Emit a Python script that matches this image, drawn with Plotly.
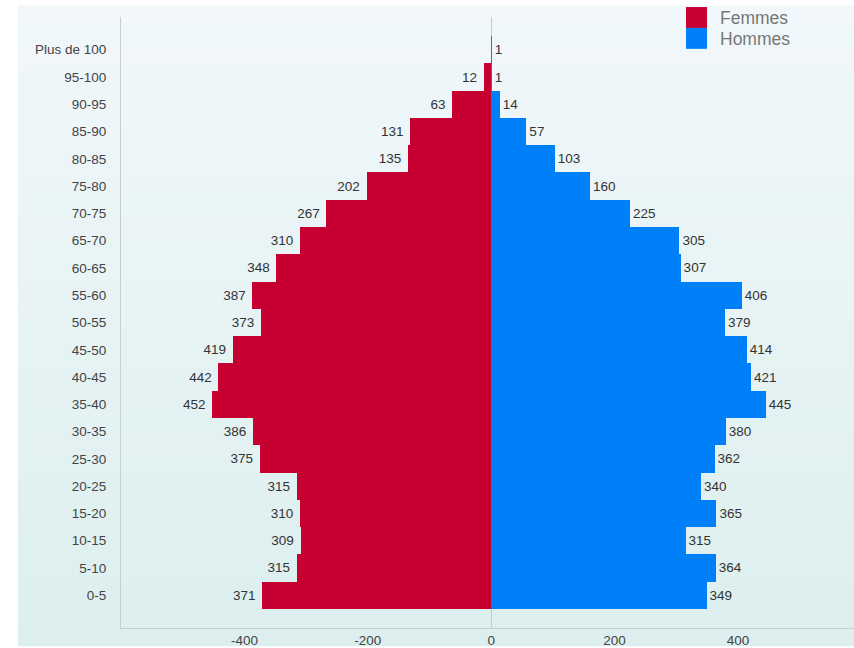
import plotly.graph_objects as go

ages = ["0-5", "5-10", "10-15", "15-20", "20-25", "25-30", "30-35", "35-40",
        "40-45", "45-50", "50-55", "55-60", "60-65", "65-70", "70-75", "75-80",
        "80-85", "85-90", "90-95", "95-100", "Plus de 100"]
femmes = [371, 315, 309, 310, 315, 375, 386, 452, 442, 419, 373, 387, 348,
          310, 267, 202, 135, 131, 63, 12, 0]
hommes = [349, 364, 315, 365, 340, 362, 380, 445, 421, 414, 379, 406, 307,
          305, 225, 160, 103, 57, 14, 1, 1]
x_ticks = [-400, -200, 0, 200, 400]
series_names = ["Femmes", "Hommes"]

RED = "#c70032"
BLUE = "#0080f8"
FONT = "Arial, Liberation Sans, sans-serif"

fig = go.Figure()
fig.add_trace(go.Bar(
    y=ages, x=[-v for v in femmes], orientation="h", name=series_names[0],
    marker=dict(color=RED, line=dict(width=0)),
    text=[(str(v) + "\u00a0") if v else "" for v in femmes],
    textposition="outside",
    textfont=dict(size=13.5, color="#333333", family=FONT),
    constraintext="none", cliponaxis=False, hoverinfo="skip",
))
fig.add_trace(go.Bar(
    y=ages, x=hommes, orientation="h", name=series_names[1],
    marker=dict(color=BLUE, line=dict(width=0)),
    text=[str(v) for v in hommes], textposition="outside",
    textfont=dict(size=13.5, color="#333333", family=FONT),
    constraintext="none", cliponaxis=False, hoverinfo="skip",
))

# light vertical gradient background (styling only)
top = (0xf1, 0xf7, 0xfa)
bot = (0xdc, 0xef, 0xee)
y_top, y_bot = 1.0179, -0.03
n = 30
shapes = []
for i in range(n):
    t = i / (n - 1)
    c = tuple(round(top[k] + (bot[k] - top[k]) * t) for k in range(3))
    y0 = y_top - (y_top - y_bot) * i / n
    y1 = y_top - (y_top - y_bot) * (i + 1) / n
    shapes.append(dict(type="rect", xref="paper", yref="paper",
                       x0=-0.1405, x1=1.0, y0=y1, y1=y0 + 0.001,
                       fillcolor="rgb(%d,%d,%d)" % c, line=dict(width=0),
                       layer="below"))

# legend (swatches + labels)
legend_colors = [RED, BLUE]
sw_top = [1.0163, 0.9821]
sw_bot = [0.9821, 0.9479]
lab_y = [0.9984, 0.9642]
annotations = []
for name, col, t0, b0, ly in zip(series_names, legend_colors, sw_top, sw_bot, lab_y):
    shapes.append(dict(type="rect", xref="paper", yref="paper",
                       x0=0.7708, x1=0.7995, y0=b0, y1=t0,
                       fillcolor=col, line=dict(width=0), layer="above"))
    annotations.append(dict(xref="paper", yref="paper", x=0.8145, y=ly,
                            xanchor="left", yanchor="middle", text=name,
                            showarrow=False,
                            font=dict(size=17.5, color="#777777", family=FONT)))

fig.update_layout(
    width=854, height=648,
    margin=dict(l=121, r=0, t=17, b=17),
    paper_bgcolor="white", plot_bgcolor="rgba(0,0,0,0)",
    barmode="relative", bargap=0,
    font=dict(family=FONT, size=13.5, color="#444444"),
    shapes=shapes, annotations=annotations,
    showlegend=False,
    xaxis=dict(range=[-600, 588], tickvals=x_ticks,
               ticktext=[str(v) for v in x_ticks],
               showgrid=False, zeroline=True, zerolinecolor="#c8c8c8",
               zerolinewidth=1, showline=True, linecolor="#c8cfd0",
               linewidth=1, ticks="", tickfont=dict(size=13.5, color="#444444"),
               fixedrange=True),
    yaxis=dict(range=[-1.2, 21.2], showgrid=False, zeroline=False,
               showline=True, linecolor="#c8cfd0", linewidth=1, ticks="",
               ticklabelstandoff=11,
               tickfont=dict(size=13.5, color="#444444"), fixedrange=True),
)

fig.write_html(
    "out.html",
    config={"displayModeBar": False, "staticPlot": True},
    post_script="document.body.style.margin='0';"
                "document.body.style.overflow='hidden';"
                "document.documentElement.style.overflow='hidden';",
)
